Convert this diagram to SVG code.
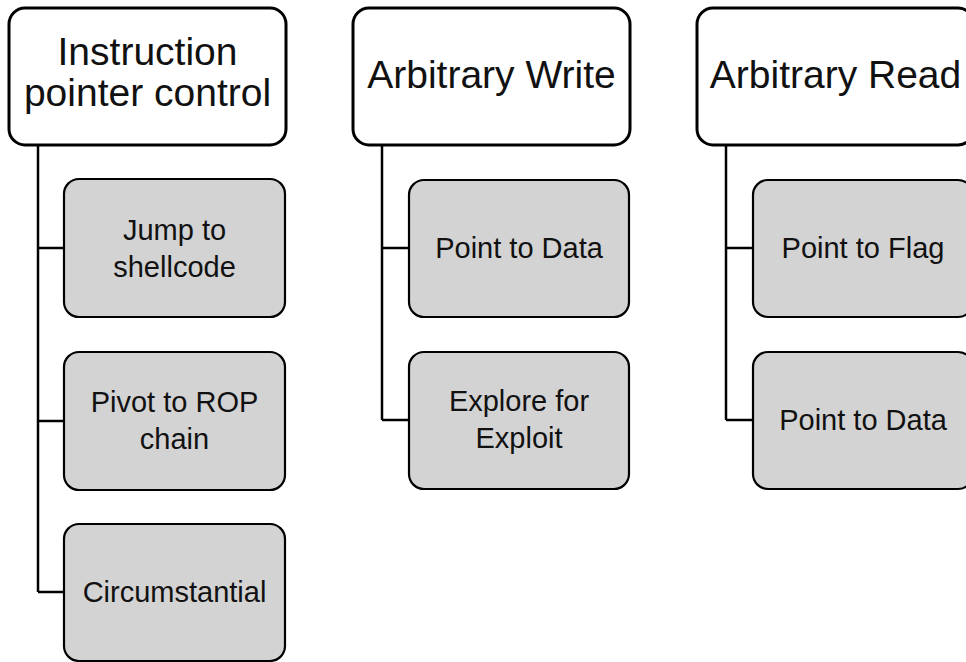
<svg xmlns="http://www.w3.org/2000/svg" width="966" height="662" viewBox="0 0 966 662">
<style>
.top{fill:#ffffff;stroke:#000;stroke-width:3}
.child{fill:#d3d3d3;stroke:#000;stroke-width:2.2}
.conn{fill:none;stroke:#000;stroke-width:2.5}
text{font-family:"Liberation Sans",Arial,sans-serif;fill:#111;text-anchor:middle}
.h{font-size:39px}
.c{font-size:29px}
</style>
<rect width="966" height="662" fill="#fff"/>
<g id="connectors">
<path class="conn" d="M38,145 V592 M38,248 H64 M38,421 H64 M38,592 H64"/>
<path class="conn" d="M382,145 V420 M382,248 H409 M382,420 H409"/>
<path class="conn" d="M726,145 V420 M726,248 H753 M726,420 H753"/>
</g>
<g id="n-ip">
<rect class="top" x="9" y="8" width="277" height="137" rx="16"/>
<text class="h" x="147.5" y="65">Instruction</text>
<text class="h" x="147.5" y="106">pointer control</text>
</g>
<g id="n-jump">
<rect class="child" x="64" y="179" width="221" height="138" rx="15"/>
<text class="c" x="174.5" y="240">Jump to</text>
<text class="c" x="174.5" y="277">shellcode</text>
</g>
<g id="n-pivot">
<rect class="child" x="64" y="352" width="221" height="138" rx="15"/>
<text class="c" x="174.5" y="412">Pivot to ROP</text>
<text class="c" x="174.5" y="449">chain</text>
</g>
<g id="n-circ">
<rect class="child" x="64" y="524" width="221" height="137" rx="15"/>
<text class="c" x="174.5" y="602">Circumstantial</text>
</g>
<g id="n-aw">
<rect class="top" x="353" y="8" width="277" height="137" rx="16"/>
<text class="h" x="491.5" y="88">Arbitrary Write</text>
</g>
<g id="n-aw-data">
<rect class="child" x="409" y="180" width="220" height="137" rx="15"/>
<text class="c" x="519" y="258">Point to Data</text>
</g>
<g id="n-aw-explore">
<rect class="child" x="409" y="352" width="220" height="137" rx="15"/>
<text class="c" x="519" y="411">Explore for</text>
<text class="c" x="519" y="448">Exploit</text>
</g>
<g id="n-ar">
<rect class="top" x="697" y="8" width="277" height="137" rx="16"/>
<text class="h" x="835.5" y="88">Arbitrary Read</text>
</g>
<g id="n-ar-flag">
<rect class="child" x="753" y="180" width="220" height="137" rx="15"/>
<text class="c" x="863" y="258">Point to Flag</text>
</g>
<g id="n-ar-data">
<rect class="child" x="753" y="352" width="220" height="137" rx="15"/>
<text class="c" x="863" y="430">Point to Data</text>
</g>
</svg>
